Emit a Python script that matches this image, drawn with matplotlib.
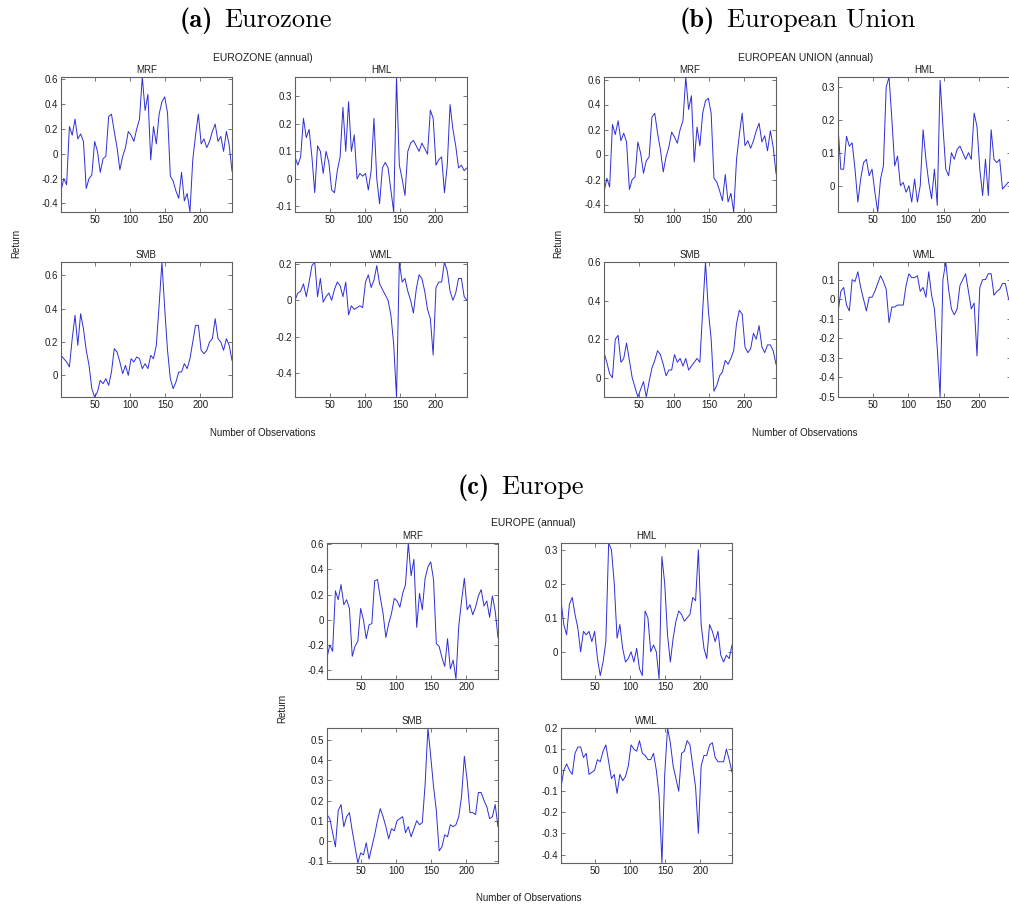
import matplotlib
matplotlib.use("Agg")
import matplotlib.pyplot as plt
import matplotlib.ticker as mtick
import numpy as np

plt.rcParams["font.family"] = ["Liberation Sans", "DejaVu Sans"]

# annual factor returns, sampled every 4th observation
obs = np.arange(1, 246, 4)

mrf_ez = [-0.30, -0.20, -0.25, 0.22, 0.15, 0.28, 0.12, 0.16, 0.10, -0.28,
          -0.20, -0.17, 0.10, 0.02, -0.15, -0.04, -0.02, 0.30, 0.32, 0.18,
          0.05, -0.13, -0.02, 0.05, 0.18, 0.15, 0.10, 0.20, 0.28, 0.62,
          0.35, 0.48, -0.05, 0.22, 0.08, 0.32, 0.42, 0.46, 0.33, -0.18,
          -0.22, -0.30, -0.36, -0.15, -0.38, -0.32, -0.47, -0.05, 0.15, 0.32,
          0.08, 0.12, 0.05, 0.10, 0.18, 0.24, 0.10, 0.14, 0.02, 0.18,
          0.07, -0.14]
hml_ez = [0.08, 0.05, 0.08, 0.22, 0.15, 0.18, 0.08, -0.05, 0.12, 0.10,
          0.02, 0.10, 0.06, -0.04, -0.05, 0.03, 0.08, 0.26, 0.10, 0.28,
          0.10, 0.16, 0.00, 0.02, 0.01, 0.02, -0.04, 0.03, 0.22, 0.00,
          -0.09, 0.04, 0.06, 0.04, -0.04, -0.12, 0.37, 0.05, 0.00, -0.06,
          0.10, 0.13, 0.14, 0.12, 0.10, 0.13, 0.11, 0.09, 0.25, 0.22,
          0.05, 0.07, 0.08, -0.05, 0.05, 0.27, 0.18, 0.12, 0.04, 0.05,
          0.03, 0.04]
smb_ez = [0.12, 0.10, 0.08, 0.05, 0.22, 0.36, 0.18, 0.37, 0.28, 0.15,
          0.06, -0.08, -0.13, -0.10, -0.03, -0.05, -0.02, -0.06, 0.02, 0.16,
          0.14, 0.08, 0.01, 0.06, 0.00, 0.10, 0.08, 0.11, 0.10, 0.04,
          0.07, 0.04, 0.12, 0.10, 0.18, 0.42, 0.68, 0.40, 0.15, -0.02,
          -0.08, -0.04, 0.02, 0.02, 0.07, 0.04, 0.10, 0.20, 0.30, 0.30,
          0.15, 0.13, 0.15, 0.20, 0.22, 0.34, 0.22, 0.20, 0.15, 0.22,
          0.18, 0.09]
wml_ez = [0.00, 0.04, 0.05, 0.09, 0.02, 0.10, 0.19, 0.21, 0.02, 0.12,
          -0.01, 0.02, 0.04, 0.00, 0.06, 0.10, 0.08, 0.02, 0.10, -0.08,
          -0.03, -0.05, -0.04, -0.03, -0.04, 0.10, 0.14, 0.07, 0.11, 0.19,
          0.09, 0.06, 0.03, 0.00, -0.08, -0.24, -0.53, 0.21, 0.10, 0.12,
          0.05, 0.00, -0.07, 0.06, 0.14, 0.12, 0.05, -0.05, -0.10, -0.30,
          0.07, 0.10, 0.10, 0.21, 0.16, 0.05, 0.00, 0.04, 0.12, 0.12,
          0.02, 0.00]

mrf_eu = [-0.30, -0.19, -0.26, 0.24, 0.16, 0.27, 0.11, 0.17, 0.10, -0.28,
          -0.20, -0.18, 0.10, 0.01, -0.15, -0.05, -0.02, 0.30, 0.33, 0.17,
          0.04, -0.14, -0.02, 0.06, 0.18, 0.14, 0.09, 0.20, 0.27, 0.62,
          0.36, 0.47, -0.06, 0.22, 0.07, 0.33, 0.43, 0.45, 0.33, -0.19,
          -0.22, -0.29, -0.37, -0.16, -0.38, -0.31, -0.46, -0.04, 0.16, 0.33,
          0.07, 0.11, 0.05, 0.11, 0.19, 0.25, 0.10, 0.15, 0.03, 0.19,
          0.06, -0.15]
hml_eu = [0.18, 0.05, 0.05, 0.15, 0.12, 0.13, 0.05, -0.05, 0.02, 0.07,
          0.08, 0.03, 0.05, -0.02, -0.08, 0.02, 0.06, 0.30, 0.33, 0.20,
          0.06, 0.09, 0.00, 0.01, -0.02, 0.00, -0.05, 0.02, -0.05, 0.00,
          0.17, 0.08, 0.01, -0.04, 0.05, -0.06, 0.32, 0.18, 0.05, 0.03,
          0.10, 0.08, 0.11, 0.12, 0.10, 0.08, 0.10, 0.08, 0.22, 0.18,
          0.05, -0.03, 0.08, -0.03, 0.17, 0.08, 0.07, 0.08, -0.01, 0.00,
          0.01, 0.01]
smb_eu = [0.13, 0.08, 0.02, 0.00, 0.20, 0.22, 0.08, 0.10, 0.18, 0.09,
          0.00, -0.05, -0.10, -0.06, -0.02, -0.10, -0.02, 0.05, 0.09, 0.14,
          0.12, 0.07, 0.01, 0.04, 0.04, 0.12, 0.08, 0.10, 0.06, 0.10,
          0.04, 0.06, 0.08, 0.10, 0.08, 0.35, 0.60, 0.35, 0.20, -0.07,
          -0.04, 0.01, 0.03, 0.09, 0.07, 0.10, 0.14, 0.28, 0.35, 0.33,
          0.16, 0.13, 0.15, 0.23, 0.20, 0.27, 0.16, 0.13, 0.17, 0.17,
          0.14, 0.07]
wml_eu = [-0.07, 0.04, 0.06, -0.03, -0.06, 0.10, 0.09, 0.14, 0.06, 0.00,
          -0.06, 0.01, 0.01, 0.04, 0.08, 0.12, 0.09, 0.05, -0.12, -0.04,
          -0.04, -0.03, -0.03, -0.03, 0.07, 0.13, 0.11, 0.11, 0.12, 0.04,
          0.06, 0.01, 0.14, 0.02, -0.05, -0.25, -0.50, 0.10, 0.19, 0.05,
          -0.05, -0.08, -0.05, 0.07, 0.10, 0.13, 0.04, -0.05, -0.02, -0.29,
          0.06, 0.10, 0.10, 0.13, 0.13, 0.02, 0.04, 0.05, 0.08, 0.08,
          0.01, -0.03]

mrf_eur = [-0.30, -0.20, -0.25, 0.23, 0.16, 0.28, 0.12, 0.16, 0.09, -0.29,
           -0.21, -0.17, 0.09, 0.00, -0.15, -0.04, -0.03, 0.31, 0.32, 0.18,
           0.05, -0.14, -0.03, 0.05, 0.17, 0.15, 0.10, 0.21, 0.28, 0.61,
           0.35, 0.48, -0.06, 0.21, 0.08, 0.33, 0.42, 0.46, 0.32, -0.19,
           -0.21, -0.30, -0.37, -0.15, -0.39, -0.32, -0.47, -0.05, 0.15, 0.33,
           0.08, 0.12, 0.04, 0.10, 0.19, 0.24, 0.11, 0.15, 0.02, 0.19,
           0.07, -0.14]
hml_eur = [0.15, 0.08, 0.05, 0.14, 0.16, 0.11, 0.07, 0.00, 0.06, 0.05,
           0.06, 0.03, 0.06, -0.02, -0.07, -0.03, 0.03, 0.32, 0.30, 0.20,
           0.04, 0.08, 0.01, -0.03, -0.02, 0.00, -0.03, 0.01, -0.05, -0.07,
           0.12, 0.10, 0.00, 0.02, 0.00, -0.08, 0.28, 0.20, 0.05, -0.03,
           0.04, 0.09, 0.12, 0.11, 0.09, 0.10, 0.11, 0.16, 0.15, 0.30,
           0.08, 0.01, -0.02, 0.08, 0.06, 0.03, 0.06, -0.01, -0.03, -0.01,
           -0.02, 0.02]
smb_eur = [0.13, 0.11, 0.04, -0.03, 0.15, 0.18, 0.07, 0.12, 0.14, 0.05,
           -0.03, -0.11, -0.06, -0.07, -0.01, -0.09, -0.03, 0.03, 0.10, 0.16,
           0.12, 0.07, 0.01, 0.06, 0.05, 0.10, 0.11, 0.12, 0.04, 0.07,
           0.02, 0.06, 0.10, 0.08, 0.09, 0.28, 0.56, 0.42, 0.27, 0.15,
           -0.05, -0.03, 0.03, 0.02, 0.08, 0.07, 0.08, 0.12, 0.22, 0.42,
           0.30, 0.14, 0.14, 0.13, 0.24, 0.24, 0.20, 0.17, 0.11, 0.12,
           0.18, 0.07]
wml_eur = [-0.08, 0.00, 0.03, 0.00, -0.02, 0.08, 0.11, 0.11, 0.06, 0.08,
           -0.02, -0.01, 0.00, 0.05, 0.04, 0.09, 0.12, 0.04, -0.04, -0.02,
           -0.11, -0.02, -0.05, -0.03, 0.02, 0.12, 0.10, 0.09, 0.14, 0.08,
           0.07, 0.05, 0.05, 0.08, 0.00, -0.12, -0.44, -0.02, 0.20, 0.13,
           0.02, -0.04, -0.10, 0.08, 0.09, 0.14, 0.12, 0.02, -0.08, -0.30,
           0.02, 0.07, 0.07, 0.12, 0.13, 0.06, 0.04, 0.04, 0.04, 0.10,
           0.05, -0.01]

factor_names = ["MRF", "HML", "SMB", "WML"]
x_ticks = [50, 100, 150, 200]

FIG_W, FIG_H = 1009, 908
LINE = (0.18, 0.18, 0.84)
FRAME = "#606060"
INK = "#1e1e1e"


def px_axes(fig, left, top, right, bottom):
    return fig.add_axes([left / FIG_W, 1 - bottom / FIG_H,
                         (right - left) / FIG_W, (bottom - top) / FIG_H])


def px_text(fig, x, y, s, **kw):
    return fig.text(x / FIG_W, 1 - y / FIG_H, s, **kw)


def fmt_tick(v, pos):
    v = round(v, 2) + 0.0
    return "0" if v == 0 else f"{v:g}"


def draw_factor(ax, name, values, ystep):
    values = np.asarray(values)
    ax.plot(obs, values, color=LINE, lw=0.7)
    ax.set_xlim(obs[0], obs[-1])
    ax.set_ylim(values.min(), values.max())
    ax.set_xticks(x_ticks)
    ax.yaxis.set_major_locator(mtick.MultipleLocator(ystep))
    ax.yaxis.set_major_formatter(mtick.FuncFormatter(fmt_tick))
    ax.tick_params(direction="in", length=3, width=0.6, color=FRAME,
                   labelsize=7, labelcolor=INK, pad=2, top=True, right=True)
    for sp in ax.spines.values():
        sp.set_color(FRAME)
        sp.set_linewidth(0.8)
    ax.set_title(name, fontsize=7, color=INK, pad=3)


def draw_region(fig, series, steps, boxes, tag, place, heading_at,
                caption, caption_xy, ylabel_xy, xlabel_xy):
    for name, values, ystep, box in zip(factor_names, series, steps, boxes):
        draw_factor(px_axes(fig, *box), name, values, ystep)
    # bold "(a)" tag and roman place name, LaTeX subcaption style
    tag_right, name_left, base = heading_at
    px_text(fig, tag_right, base, tag, fontsize=19, family="cmb10",
            ha="right", va="baseline")
    px_text(fig, name_left, base, place, fontsize=19, family="cmr10",
            ha="left", va="baseline")
    px_text(fig, *caption_xy, caption, fontsize=7.5, color=INK,
            ha="center", va="center")
    px_text(fig, *ylabel_xy, "Return", fontsize=7, color=INK, rotation=90,
            ha="center", va="center")
    px_text(fig, *xlabel_xy, "Number of Observations", fontsize=7,
            color=INK, ha="center", va="center")


fig = plt.figure(figsize=(FIG_W / 100, FIG_H / 100), dpi=100)

draw_region(fig, [mrf_ez, hml_ez, smb_ez, wml_ez], [0.2, 0.1, 0.2, 0.2],
            [(61, 77, 232, 212), (295, 77, 467, 212),
             (61, 262, 232, 397), (295, 262, 467, 397)],
            "(a)", "Eurozone", (213, 224, 27),
            "EUROZONE (annual)", (263, 58), (16, 243), (263, 433))

draw_region(fig, [mrf_eu, hml_eu, smb_eu, wml_eu], [0.2, 0.1, 0.2, 0.1],
            [(604, 77, 776, 212), (838, 77, 1011, 212),
             (604, 262, 776, 397), (838, 262, 1011, 397)],
            "(b)", "European Union", (715, 727, 27),
            "EUROPEAN UNION (annual)", (806, 58), (558, 243), (805, 433))

draw_region(fig, [mrf_eur, hml_eur, smb_eur, wml_eur], [0.2, 0.1, 0.1, 0.1],
            [(327, 543, 498, 679), (561, 543, 732, 679),
             (327, 728, 498, 863), (561, 728, 732, 863)],
            "(c)", "Europe", (490, 501, 494),
            "EUROPE (annual)", (533, 523), (282, 708), (529, 898))

fig.savefig("out.png", dpi=100)
